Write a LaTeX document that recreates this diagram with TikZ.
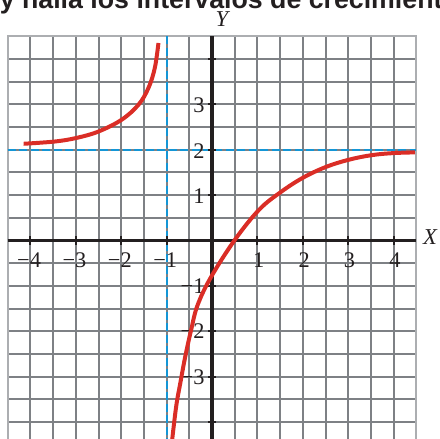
\documentclass[tikz,border=0pt]{standalone}
\usepackage{fontspec}
\setmainfont{Liberation Serif}
\newfontfamily\headfont{Liberation Sans}
\definecolor{gridgray}{RGB}{126,129,133}
\definecolor{bordergray}{RGB}{172,174,177}
\definecolor{asymblue}{RGB}{20,150,214}
\definecolor{curvered}{RGB}{218,45,38}
\definecolor{axisblack}{RGB}{35,31,32}
\tikzset{
  gridline/.style={draw=gridgray, line width=1.25pt},
  borderline/.style={draw=bordergray, line width=1.25pt},
  asymline/.style={draw=asymblue, line width=1.25pt, dash pattern=on 5pt off 2.2pt},
  axisline/.style={draw=axisblack, line width=1.9pt},
  tickline/.style={draw=axisblack, line width=1.2pt},
  curveline/.style={draw=curvered, line width=2.5pt},
  ticklabel/.style={inner sep=0pt, font=\fontsize{14}{16}\selectfont, text=axisblack},
  axislabel/.style={inner sep=0pt, font=\fontsize{14.2}{16}\selectfont\itshape, text=axisblack},
}
\begin{document}
\begin{tikzpicture}[x=1cm,y=1cm]
\useasboundingbox (-4.670,-4.372) rectangle (5.022,5.297);
\clip (-4.670,-4.372) rectangle (5.022,5.297);
% cut-off heading
\node[anchor=base west, inner sep=0pt, font=\headfont\bfseries\fontsize{16.75}{19}\selectfont, text=axisblack] (head) at (-4.680,5.099) {y halla los intervalos de crecimiento};
% grid
\foreach \i in {-4,-3.5,...,4} {
  \draw[gridline] (\i,-4.6) -- (\i,4.5);
}
\foreach \j in {-4.5,-4,...,4} {
  \draw[gridline] (-4.5,\j) -- (4.5,\j);
}
\draw[borderline] (-4.5,-4.6) -- (-4.5,4.5) -- (4.5,4.5) -- (4.5,-4.6);
% asymptotes
\draw[asymline] (-1,4.5) -- (-1,-4.6);
\draw[asymline] (-4.5,2) -- (4.5,2);
% axes
\coordinate (xl) at (-4.5,0);
\coordinate (xr) at (4.5,0);
\coordinate (yt) at (0,4.5);
\coordinate (yb) at (0,-4.6);
\draw[axisline] (xl) -- (xr);
\draw[axisline] (yt) -- (yb);
% ticks
\foreach \i in {-4,-3,-2,-1,1,2,3,4} {
  \draw[tickline] (\i,-0.09) -- (\i,0.09);
}
\foreach \j in {-4,-3,-2,-1,1,2,3,4} {
  \draw[tickline] (-0.09,\j) -- (0.09,\j);
}
% tick labels
\foreach \i in {-4,-3,-2,-1} {
  \pgfmathtruncatemacro{\a}{-\i}
  \node[ticklabel, anchor=base] (xt\a m) at (\i-0.03,-0.606) {−\a};
}
\foreach \i in {1,2,3,4} {
  \node[ticklabel, anchor=base] (xt\i) at (\i+0.03,-0.606) {\i};
}
\foreach \j in {1,2,3} {
  \node[ticklabel, anchor=base east] (yt\j) at (-0.16,\j-0.19) {\j};
}
\foreach \j in {-1,-2,-3} {
  \pgfmathtruncatemacro{\a}{-\j}
  \node[ticklabel, anchor=base east] (yt\a m) at (-0.16,\j-0.17) {−\a};
}
% axis labels
\node[axislabel] (ylab) at (0.22,4.88) {Y};
\node[axislabel] (xlab) at (4.80,0.066) {X};
% curve
\draw[curveline] plot[smooth, tension=0.6] coordinates {
  (-4.15,2.13) (-3.46,2.18) (-2.98,2.26) (-2.50,2.40) (-1.99,2.66)
  (-1.62,2.99) (-1.40,3.36) (-1.26,3.80) (-1.18,4.35)};
\draw[curveline] plot[smooth, tension=0.6] coordinates {
  (-0.89,-4.50) (-0.79,-3.66) (-0.70,-3.15) (-0.59,-2.56) (-0.46,-1.97)
  (-0.32,-1.43) (-0.03,-0.82) (0.50,0.01) (1.04,0.68) (1.52,1.07)
  (2.0,1.38) (2.51,1.62) (3.02,1.78) (3.52,1.88) (4.0,1.925) (4.47,1.94)};
\end{tikzpicture}
\end{document}
